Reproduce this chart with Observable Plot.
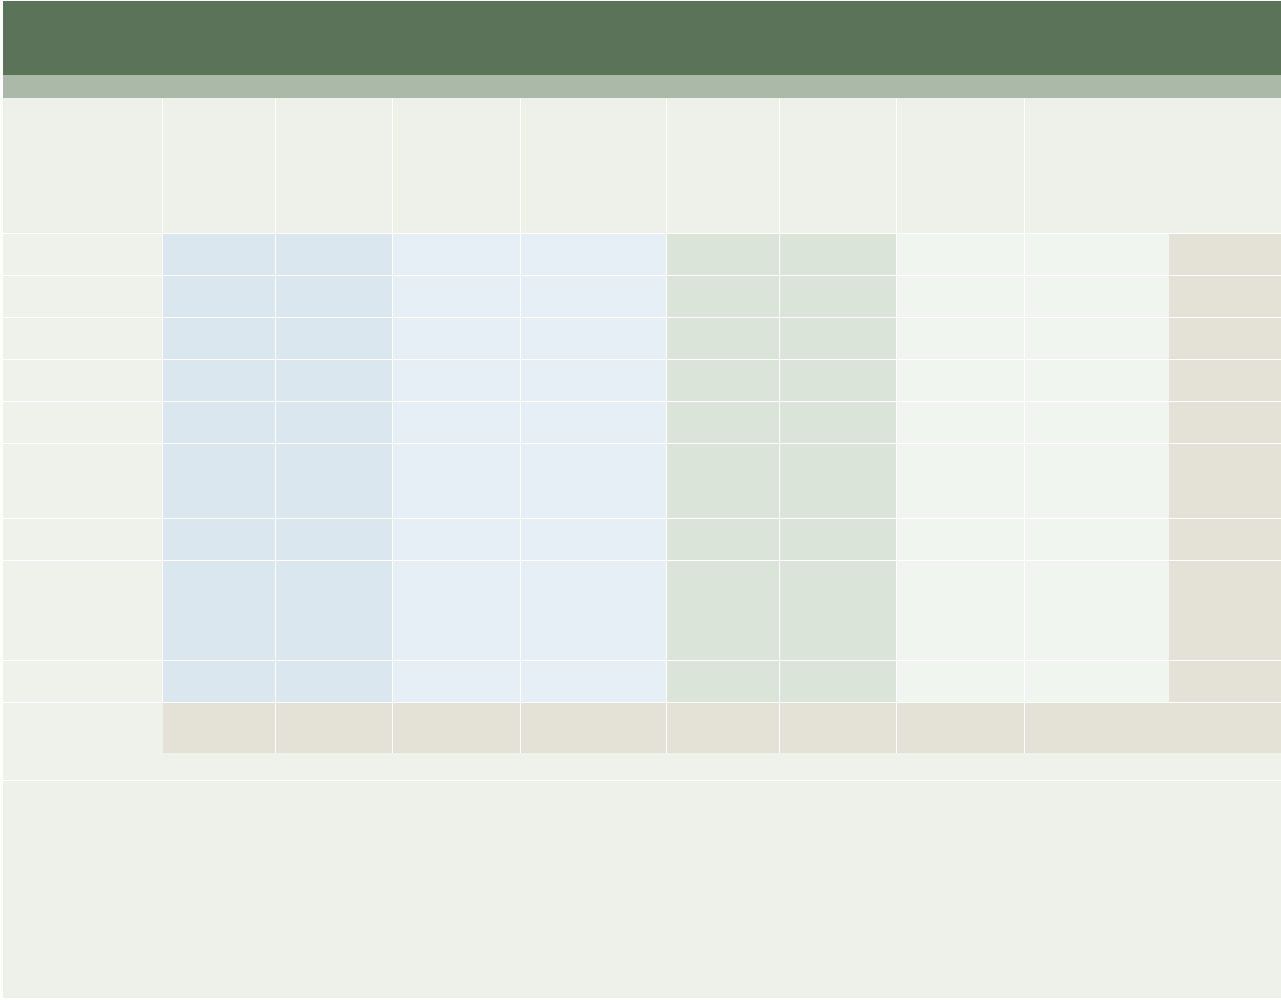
<!DOCTYPE html>
<html>
<head>
<meta charset="utf-8">
<script src="https://cdn.jsdelivr.net/npm/d3@7"></script>
<script src="https://cdn.jsdelivr.net/npm/@observablehq/plot@0.6"></script>
<style>
  html, body { margin: 0; padding: 0; background: #ffffff; }
  #chart svg { display: block; }
</style>
</head>
<body>
<div id="chart"></div>
<script>
// ---- Table structure (the reference shows no legible text, only the cell grid) ----
const columns      = ["label", "g1a", "g1b", "g2a", "g2b", "g3a", "g3b", "g4a", "g4b"];
const columnGroups = ["label", "blue", "blue", "sky", "sky", "sage", "sage", "mint", "mint"];
const columnWidths = [160, 113, 117, 128, 146, 113, 117, 128, 256];
const flagWidth    = 112;   // tan block at the right end of the last column
const rows         = ["r1", "r2", "r3", "r4", "r5", "r6", "r7", "r8", "r9"];
const rowHeights   = [42, 42, 42, 42, 42, 75, 42, 100, 42];

// ---- Layout ----
const frame = {left: 3, top: 1, right: 1281, bottom: 998};
const bands = {title: 74, subtitle: 23, header: 136, footer: 50, footerStrip: 27};
const gap = 1;

// ---- Colours ----
const palette = {
  title: "#5b7358",
  subtitle: "#abbaa8",
  base: "#edf1ea",
  label: "#eef2eb",
  blue: "#dae7ee",
  sky: "#e7eff6",
  sage: "#dbe4d9",
  mint: "#f1f5ef",
  tan: "#e4e2d6",
  line: "#ffffff"
};

// ---- Build cells ----
const colStart = [];
let cx = frame.left;
for (const w of columnWidths) { colStart.push(cx); cx += w; }
const colEnd = (i) => i === columns.length - 1 ? frame.right : colStart[i + 1] - gap;

const cells = [];
let y = frame.top;
cells.push({x1: frame.left, x2: frame.right, y1: y, y2: y + bands.title, fill: palette.title});
y += bands.title;
cells.push({x1: frame.left, x2: frame.right, y1: y, y2: y + bands.subtitle, fill: palette.subtitle});
y += bands.subtitle;
const tableTop = y;

// header row
columns.forEach((c, i) => {
  cells.push({x1: colStart[i], x2: colEnd(i), y1: y, y2: y + bands.header - gap, fill: palette.base});
});
y += bands.header;

// data rows
rows.forEach((r, ri) => {
  const h = rowHeights[ri];
  columns.forEach((c, i) => {
    const g = columnGroups[i];
    const fill = g === "label" ? palette.label : palette[g];
    if (i === columns.length - 1) {
      cells.push({x1: colStart[i], x2: frame.right - flagWidth, y1: y, y2: y + h - gap, fill});
      cells.push({x1: frame.right - flagWidth, x2: frame.right, y1: y, y2: y + h - gap, fill: palette.tan});
    } else {
      cells.push({x1: colStart[i], x2: colEnd(i), y1: y, y2: y + h - gap, fill});
    }
  });
  y += h;
});

// footer row: tan totals + light strip below
columns.forEach((c, i) => {
  if (i === 0) {
    cells.push({x1: colStart[i], x2: colEnd(i) + gap, y1: y, y2: y + bands.footer + bands.footerStrip, fill: palette.label});
  } else {
    cells.push({x1: colStart[i], x2: colEnd(i), y1: y, y2: y + bands.footer, fill: palette.tan});
  }
});
cells.push({x1: colStart[1] - gap, x2: frame.right, y1: y + bands.footer, y2: y + bands.footer + bands.footerStrip, fill: palette.label});
y += bands.footer + bands.footerStrip + gap;
const tableBottom = y;

// notes area
cells.push({x1: frame.left, x2: frame.right, y1: y, y2: frame.bottom, fill: palette.base});

const backdrop = [{x1: frame.left, x2: frame.right, y1: tableTop, y2: tableBottom, fill: palette.line}];

const W = 1281, H = 1000;
const chart = Plot.plot({
  width: W,
  height: H,
  margin: 0,
  x: {domain: [0, W], range: [0, W], axis: null},
  y: {domain: [0, H], range: [0, H], axis: null},
  color: {type: "identity"},
  marks: [
    Plot.rect(backdrop, {x1: "x1", x2: "x2", y1: "y1", y2: "y2", fill: "fill", shapeRendering: "crispEdges"}),
    Plot.rect(cells, {x1: "x1", x2: "x2", y1: "y1", y2: "y2", fill: "fill", shapeRendering: "crispEdges"})
  ]
});
document.getElementById("chart").append(chart);
</script>
</body>
</html>
